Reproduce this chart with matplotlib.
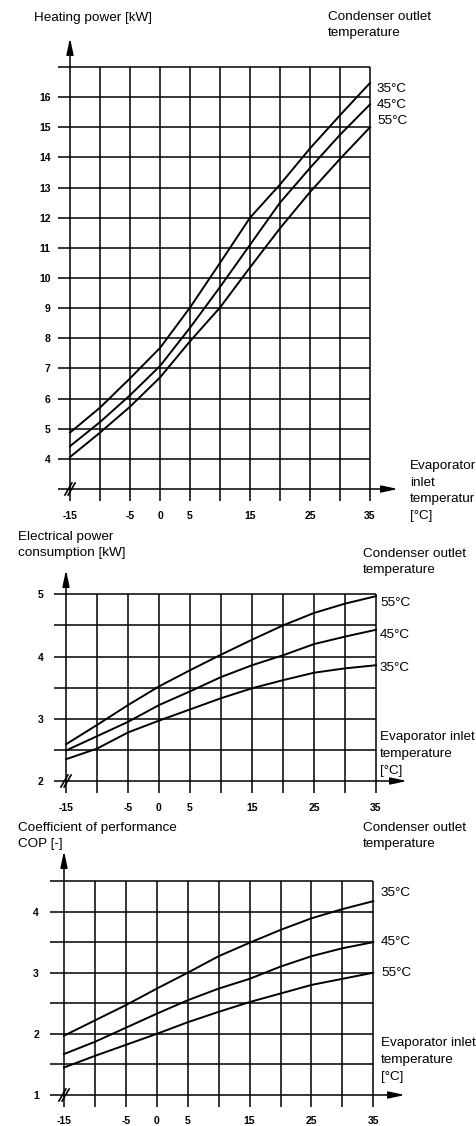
import matplotlib
matplotlib.use('Agg')
import matplotlib.pyplot as plt

W, H = 477, 1126
plt.rcParams['font.family'] = ['Liberation Sans', 'DejaVu Sans']

# evaporator inlet temperature [°C]
temps = [-15, -10, -5, 0, 5, 10, 15, 20, 25, 30, 35]
xtick_vals = [-15, -5, 0, 5, 15, 25, 35]
xtick_labels = ['-15', '-5', '0', '5', '15', '25', '35']

# heating power [kW]
heat_35 = [4.87, 5.70, 6.67, 7.68, 9.02, 10.5, 12.0, 13.1, 14.3, 15.4, 16.47]
heat_45 = [4.42, 5.22, 6.11, 7.08, 8.35, 9.7, 11.1, 12.5, 13.65, 14.75, 15.76]
heat_55 = [4.06, 4.87, 5.73, 6.70, 7.90, 9.02, 10.35, 11.65, 12.85, 13.95, 15.0]
heat_grid = [4, 5, 6, 7, 8, 9, 10, 11, 12, 13, 14, 15, 16, 17]
heat_ticks = [4, 5, 6, 7, 8, 9, 10, 11, 12, 13, 14, 15, 16]

# electrical power consumption [kW]
elec_55 = [2.59, 2.90, 3.22, 3.52, 3.78, 4.03, 4.27, 4.50, 4.70, 4.85, 4.97]
elec_45 = [2.49, 2.72, 2.95, 3.22, 3.44, 3.67, 3.86, 4.02, 4.20, 4.32, 4.43]
elec_35 = [2.35, 2.52, 2.78, 2.97, 3.15, 3.33, 3.49, 3.62, 3.74, 3.81, 3.86]
elec_grid = [2.5, 3, 3.5, 4, 4.5, 5]
elec_ticks = [2, 3, 4, 5]

# coefficient of performance
cop_35 = [1.97, 2.22, 2.47, 2.74, 3.00, 3.27, 3.49, 3.70, 3.89, 4.04, 4.17]
cop_45 = [1.67, 1.87, 2.10, 2.33, 2.55, 2.74, 2.90, 3.10, 3.27, 3.40, 3.50]
cop_55 = [1.45, 1.64, 1.82, 2.00, 2.19, 2.36, 2.52, 2.66, 2.80, 2.90, 3.00]
cop_grid = [1.5, 2, 2.5, 3, 3.5, 4, 4.5]
cop_ticks = [1, 2, 3, 4]


def fx(px):
    return px / W


def fy(py):
    return 1 - py / H


def make_panel(fig, box, ylim):
    # box = (left px, top px, right px, bottom px) of the grid area
    l, t, r, b = box
    ax = fig.add_axes([fx(l), fy(b), (r - l) / W, (b - t) / H])
    ax.set_xlim(-15, 35)
    ax.set_ylim(*ylim)
    for s in ax.spines.values():
        s.set_visible(False)
    ax.tick_params(length=0)
    return ax


def draw_frame(ax, grid_y, left_px, arrow_top_px, arrow_right_px, box, ytick_pad, xtick_pad):
    l, t, r, b = box
    y0, y1 = ax.get_ylim()
    sx = 50 / (r - l)
    sy = (y1 - y0) / (b - t)
    x_left = -15 - (l - left_px) * sx
    y_below = y0 - 12 * sy
    kw = dict(color='black', lw=1.1, clip_on=False, solid_capstyle='butt')
    for gy in grid_y:
        ax.plot([x_left, 35], [gy, gy], **kw)
    for gx in range(-10, 40, 5):
        ax.plot([gx, gx], [y_below, y1], **kw)
    # axes with arrows
    y_tip = y1 + (t - arrow_top_px) * sy
    x_tip = 35 + (arrow_right_px - r) * sx
    ax.plot([-15, -15], [y_below, y_tip - 8 * sy], **kw)
    ax.plot([x_left, x_tip - 10 * sx], [y0, y0], **kw)
    head = dict(arrowstyle='-|>,head_length=1.4,head_width=0.3', color='black',
                lw=1.1, mutation_scale=7, shrinkA=0, shrinkB=0)
    ax.annotate('', xy=(-15, y_tip), xytext=(-15, y_tip - 16 * sy),
                arrowprops=head, annotation_clip=False)
    ax.annotate('', xy=(x_tip, y0), xytext=(x_tip - 16 * sx, y0),
                arrowprops=head, annotation_clip=False)
    # axis break mark
    for off in (-1.6, 1.6):
        ax.plot([-15 + (off - 3.5) * sx, -15 + (off + 3.5) * sx],
                [y0 - 6 * sy, y0 + 6 * sy], color='black', lw=1.2, clip_on=False)
    ax.set_xticks(xtick_vals)
    ax.set_xticklabels(xtick_labels, fontsize=7.5, fontweight='bold')
    ax.tick_params(axis='x', pad=xtick_pad)
    ax.tick_params(axis='y', pad=ytick_pad)


def draw_curves(ax, series):
    for vals in series:
        ax.plot(temps, vals, color='black', lw=1.4, clip_on=False)


def label(px, py, s, size=9.7, va='center'):
    plt.gcf().text(fx(px), fy(py), s, fontsize=size, ha='left', va=va,
                   linespacing=1.55)


fig = plt.figure(figsize=(W / 100, H / 100), dpi=100)

# ---- panel 1: heating power
box1 = (70, 67, 370, 489)
ax1 = make_panel(fig, box1, (3, 17))
draw_frame(ax1, heat_grid, 58, 38, 398, box1, 14, 16)
ax1.set_yticks(heat_ticks)
ax1.set_yticklabels([str(v) for v in heat_ticks], fontsize=7.5, fontweight='bold')
draw_curves(ax1, [heat_35, heat_45, heat_55])
label(34, 18, 'Heating power [kW]')
label(328, 25, 'Condenser outlet\ntemperature')
label(377, 89, '35°C')
label(377, 105, '45°C')
label(377, 121, '55°C')
label(410, 491, 'Evaporator\ninlet\ntemperatur\n[°C]')

# ---- panel 2: electrical power consumption
box2 = (66, 594.3, 376, 781)
ax2 = make_panel(fig, box2, (2, 5))
draw_frame(ax2, elec_grid, 54, 570, 407, box2, 16, 16)
ax2.set_yticks(elec_ticks)
ax2.set_yticklabels([str(v) for v in elec_ticks], fontsize=7.5, fontweight='bold')
draw_curves(ax2, [elec_55, elec_45, elec_35])
label(18, 545, 'Electrical power\nconsumption [kW]')
label(363, 562, 'Condenser outlet\ntemperature')
label(380, 603, '55°C')
label(380, 635, '45°C')
label(380, 668, '35°C')
label(380, 754, 'Evaporator inlet\ntemperature\n[°C]')

# ---- panel 3: coefficient of performance
box3 = (64, 881, 373.3, 1095)
ax3 = make_panel(fig, box3, (1, 4.5))
draw_frame(ax3, cop_grid, 50, 851, 405, box3, 18, 15)
ax3.set_yticks(cop_ticks)
ax3.set_yticklabels([str(v) for v in cop_ticks], fontsize=7.5, fontweight='bold')
draw_curves(ax3, [cop_35, cop_45, cop_55])
label(18, 836, 'Coefficient of performance\nCOP [-]')
label(363, 836, 'Condenser outlet\ntemperature')
label(381, 893, '35°C')
label(381, 942, '45°C')
label(381, 973, '55°C')
label(381, 1060, 'Evaporator inlet\ntemperature\n[°C]')

fig.savefig('out.png', dpi=100)
